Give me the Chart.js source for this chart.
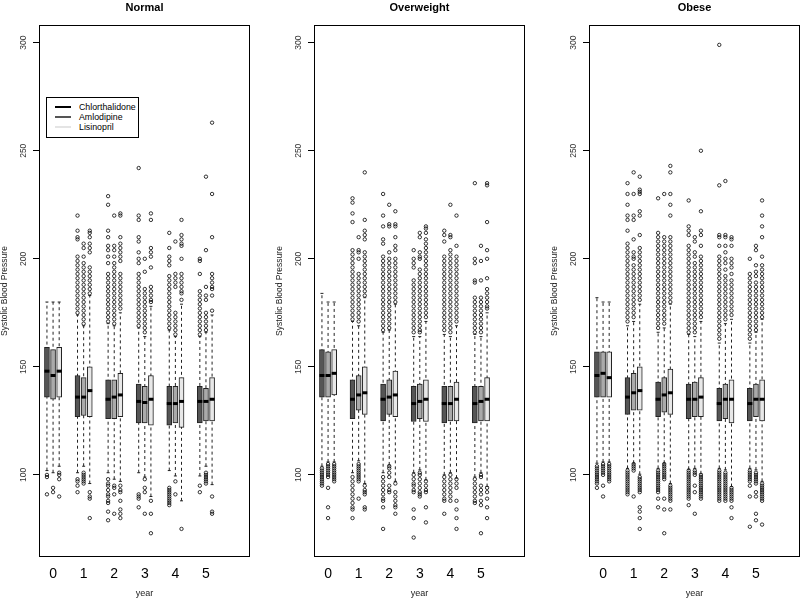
<!DOCTYPE html>
<html>
<head>
<meta charset="utf-8">
<script src="https://cdn.jsdelivr.net/npm/chart.js@4/dist/chart.umd.min.js"></script>
<style>
  body { margin: 0; background: #fff; width: 800px; height: 599px; overflow: hidden; position: relative;
         font-family: "Liberation Sans", Arial, sans-serif; }
  canvas { position: absolute; top: 0; }
  #legend { position: absolute; left: 46px; top: 97px; width: 93px; height: 41px; border: 1px solid #000;
            background: #fff; font-size: 8.8px; color: #000; box-sizing: border-box; padding-top: 4px; }
  #legend .row { position: relative; height: 10px; line-height: 10px; padding-left: 32px; }
  #legend .ln { position: absolute; left: 8px; top: 4px; width: 16px; height: 2px; }
</style>
</head>
<body>
<canvas id="c0" width="252" height="599" style="left:0px"></canvas>
<canvas id="c1" width="252" height="599" style="left:275px"></canvas>
<canvas id="c2" width="252" height="599" style="left:550px"></canvas>
<div id="legend">
  <div class="row"><span class="ln" style="background:#000"></span>Chlorthalidone</div>
  <div class="row"><span class="ln" style="background:#555"></span>Amlodipine</div>
  <div class="row"><span class="ln" style="background:#e4e4e4"></span>Lisinopril</div>
</div>
<script>
// categories
const years = [0, 1, 2, 3, 4, 5]
const drugs = ['Chlorthalidone', 'Amlodipine', 'Lisinopril']
const panels = ['Normal', 'Overweight', 'Obese']
const yTicks = [100, 150, 200, 250, 300]

// box stats, one row per drug (Chlorthalidone, Amlodipine, Lisinopril), one value per year
// Normal
const normalQ1  = [[136, 127, 126, 124, 123, 124], [135, 127.5, 126, 124, 124, 125], [136, 127, 127, 123, 122, 125]]
const normalMed = [[148, 136, 135, 134, 133, 134], [146, 136, 136, 133.5, 133, 134], [148, 139, 137, 135, 134, 135]]
const normalQ3  = [[159, 146, 144, 142, 141, 141], [158, 145, 144, 141, 141, 140], [159, 150, 147, 146, 145, 145]]
const normalLo  = [[102, 101, 101, 101, 102, 99.5], [101, 104, 98, 99, 99.5, 104], [104, 96, 97, 90, 88, 95.5]]
const normalHi  = [[180, 174, 170, 168, 167, 164], [180, 169, 169, 164, 164, 166], [180, 183, 175, 178, 179, 174]]
const normalOut = [
  [[100, 99, 91],
   [220, 213, 210, 209, 201, 199, 197, 195, 193, 191, 189, 187, 185, 183, 181, 179, 177, 175, 98, 97, 95, 92],
   [229, 225, 213, 210, 206, 204, 201, 198, 193, 191, 189, 187, 185, 183, 181, 179, 177, 175, 173, 171, 98, 96, 95, 93, 91, 90, 88, 87, 83, 79],
   [242, 220, 218, 210, 208, 203, 200, 198, 193, 191, 189, 187, 185, 183, 181, 179, 177, 175, 173, 171, 169, 91, 90, 89, 85],
   [212, 205, 201, 199, 197, 192, 190, 188, 186, 184, 182, 180, 178, 176, 174, 172, 170, 168, 94, 93, 92, 91, 90, 89, 88, 87, 86],
   [200, 199, 193, 185, 183, 181, 179, 177, 175, 173, 171, 169, 167, 165, 95, 92]],
  [[94, 92],
   [207, 205, 201, 198, 196, 194, 192, 190, 188, 186, 184, 182, 180, 178, 176, 174, 172, 170, 101, 100, 99, 98, 97, 96],
   [220, 206, 204, 201, 198, 196, 194, 192, 190, 188, 186, 184, 182, 180, 178, 176, 174, 172, 170, 95, 94, 91, 82],
   [200, 194, 186, 184, 182, 180, 178, 176, 174, 172, 170, 168, 166, 98, 94, 92, 82],
   [208, 193, 191, 189, 187, 175, 173, 171, 169, 167, 165, 97, 91],
   [238, 204, 187, 183, 181, 175, 173, 171, 169, 167, 101, 100, 99, 98, 97, 96]],
  [[101, 100, 98, 90],
   [213, 212, 210, 207, 205, 203, 196, 194, 192, 190, 188, 186, 184, 92, 90, 89, 80],
   [221, 220, 210, 207, 205, 203, 201, 199, 193, 191, 189, 187, 185, 183, 181, 179, 177, 95, 93, 92, 88, 84, 82, 80],
   [221, 218, 205, 203, 201, 196, 187, 185, 183, 181, 180, 88, 82, 73],
   [218, 211, 209, 207, 206, 200, 193, 191, 189, 187, 185, 184, 181, 75],
   [263, 230, 210, 193, 191, 189, 187, 186, 183, 176, 90, 83, 82]]
]

// Overweight
const overQ1  = [[136, 126, 125, 124.7, 124, 124], [136, 130, 128, 126, 125, 125], [137, 128, 127, 124.7, 125, 125]]
const overMed = [[146, 135, 135, 133, 133, 133], [146, 137, 136, 134, 133, 134], [147, 138, 137, 135, 135, 135]]
const overQ3  = [[158, 144, 142, 141, 141, 141], [157, 146, 144, 142, 141, 141], [158, 150, 148, 144, 143, 145]]
const overLo  = [[104, 101, 101, 101, 100, 99], [106, 106.5, 104.6, 102.3, 101, 101], [106, 96, 97, 97.7, 98.5, 94.6]]
const overHi  = [[184, 171, 166, 164, 165, 165], [180, 169, 167, 164, 164, 164], [180, 182, 179, 171, 169, 175]]
const overOut = [
  [[103, 102, 101, 100, 99, 98, 97, 96, 95],
   [228, 226, 221, 217, 204, 202, 200, 198, 196, 194, 192, 190, 188, 186, 184, 182, 180, 178, 176, 174, 172, 99, 97, 95, 93, 91, 89, 87, 85, 84, 80],
   [230, 220, 215, 209, 207, 201, 199, 197, 195, 193, 191, 189, 187, 185, 183, 181, 179, 177, 175, 173, 171, 169, 167, 99, 97, 95, 93, 91, 89, 88, 85, 75],
   [204, 200, 198, 196, 190, 188, 186, 184, 182, 180, 178, 176, 174, 172, 170, 168, 166, 100, 98, 96, 95, 93, 92, 84, 80, 71],
   [213, 211, 208, 201, 199, 197, 195, 193, 191, 189, 187, 185, 183, 181, 179, 177, 175, 173, 171, 169, 167, 99, 97, 95, 93, 91, 89, 88, 82],
   [235, 200, 198, 190, 189, 182, 180, 178, 176, 174, 172, 170, 168, 166, 98, 96, 94, 92, 90, 88, 87]],
  [[105, 104, 103, 102, 101, 100, 99, 94, 85, 80],
   [210, 204, 203, 200, 193, 191, 189, 187, 185, 183, 181, 179, 177, 175, 173, 171, 105, 104, 103, 102, 101, 100, 99, 98, 97, 89],
   [225, 216, 215, 203, 200, 198, 196, 194, 192, 190, 188, 186, 184, 182, 180, 178, 176, 174, 172, 170, 168, 104, 103, 101, 99, 95, 93, 92],
   [212, 210, 203, 201, 200, 195, 193, 191, 189, 187, 185, 183, 181, 179, 177, 175, 173, 171, 169, 167, 166, 101, 100, 98, 96, 94, 92, 91, 90],
   [225, 211, 210, 204, 202, 200, 198, 196, 194, 192, 190, 188, 186, 184, 182, 180, 178, 176, 174, 172, 170, 168, 166, 100, 98, 96, 94, 92, 90, 88],
   [206, 199, 190, 182, 180, 178, 176, 174, 172, 170, 168, 166, 100, 99, 95, 93, 91, 88, 86, 73]],
  [[105, 104, 103, 102, 101, 100, 99, 98, 97],
   [240, 218, 213, 211, 209, 203, 201, 199, 197, 195, 193, 191, 189, 187, 185, 183, 95, 93, 92, 91, 85, 84],
   [222, 216, 215, 210, 206, 204, 200, 198, 196, 194, 192, 190, 188, 186, 184, 182, 180, 96, 92, 90, 88, 86, 85, 82],
   [215, 214, 212, 209, 207, 205, 203, 201, 199, 197, 195, 193, 191, 189, 187, 185, 183, 181, 179, 177, 175, 173, 97, 95, 93, 92, 85, 78],
   [220, 206, 201, 199, 197, 195, 193, 191, 189, 187, 185, 183, 181, 179, 177, 175, 173, 171, 98, 96, 94, 88, 84, 80, 75],
   [235, 234, 217, 204, 200, 191, 186, 184, 182, 180, 178, 177, 94, 92, 89, 85, 80]]
]

// Obese
const obeseQ1  = [[136, 128, 127, 126, 125, 125], [136, 130, 129, 127, 126, 127], [136, 130, 128, 127, 124, 125]]
const obeseMed = [[146, 136, 135, 135, 133, 133], [147, 138, 137, 135, 135, 135], [145, 139, 138, 136, 135, 135]]
const obeseQ3  = [[157, 145, 143, 142, 140, 140], [157, 147, 145, 143, 142, 142], [157, 150, 149, 145, 144, 144]]
const obeseLo  = [[105.4, 103, 103, 102.6, 103, 103], [106, 105.4, 105.4, 103, 102.3, 102.3], [106, 100.3, 96, 100.5, 94.6, 97]]
const obeseHi  = [[182, 169, 166, 165, 161, 161], [180, 171, 168, 164, 170, 166], [180, 179, 179, 171, 172, 172]]
const obeseOut = [
  [[104, 103, 102, 101, 100, 99, 98, 97, 96, 94],
   [235, 230, 225, 220, 218, 213, 207, 205, 203, 201, 199, 197, 195, 193, 191, 189, 187, 185, 183, 181, 179, 177, 175, 173, 171, 102, 101, 100, 99, 98, 97, 96, 95, 94, 93, 92, 91],
   [228, 212, 210, 208, 206, 204, 202, 200, 198, 196, 194, 192, 190, 188, 186, 184, 182, 180, 178, 176, 174, 172, 170, 168, 102, 101, 100, 99, 98, 97, 96, 95, 94, 93, 92, 89, 85],
   [227, 215, 213, 211, 206, 204, 202, 200, 198, 196, 194, 192, 190, 188, 186, 184, 182, 180, 178, 176, 174, 172, 170, 168, 166, 102, 101, 100, 99, 98, 97, 96, 95, 94, 93, 92, 91, 90, 89, 86],
   [299, 234, 211, 210, 206, 201, 199, 197, 195, 193, 191, 189, 187, 185, 183, 181, 179, 177, 175, 173, 171, 169, 167, 165, 163, 102, 101, 100, 99, 98, 97, 96, 95, 94, 93, 92, 91, 90, 89, 88],
   [200, 193, 191, 189, 187, 185, 183, 181, 179, 177, 175, 173, 171, 169, 167, 165, 163, 102, 101, 100, 99, 98, 97, 95, 90, 76]],
  [[105, 104, 103, 102, 101, 100, 95, 90],
   [240, 230, 220, 218, 209, 203, 201, 200, 197, 195, 193, 191, 189, 187, 185, 183, 181, 179, 177, 175, 173, 105, 104, 103, 102, 90],
   [230, 210, 208, 206, 204, 202, 200, 198, 196, 194, 192, 190, 188, 186, 184, 182, 180, 178, 176, 174, 172, 170, 105, 104, 103, 102, 101, 100, 99, 98, 89, 84, 73],
   [210, 208, 203, 201, 198, 196, 194, 192, 190, 188, 186, 184, 182, 180, 178, 176, 174, 172, 170, 168, 166, 102, 101, 100, 95, 92, 82],
   [236, 211, 210, 206, 203, 200, 198, 195, 192, 190, 188, 186, 184, 182, 180, 178, 176, 174, 172, 101, 100, 99, 98, 97, 96, 95, 94, 93, 92, 91, 90, 89, 88],
   [206, 204, 197, 194, 192, 189, 187, 185, 183, 181, 179, 177, 175, 173, 171, 169, 167, 101, 100, 99, 98, 97, 96, 92, 90, 82, 79]],
  [[105, 104, 103, 102, 101, 100, 99, 98, 97],
   [238, 232, 231, 230, 222, 220, 211, 205, 203, 201, 199, 197, 195, 193, 191, 189, 187, 185, 183, 181, 99, 98, 97, 96, 95, 94, 93, 92, 85, 83, 80, 75],
   [243, 240, 230, 225, 220, 210, 208, 206, 204, 202, 200, 198, 196, 194, 192, 190, 188, 186, 184, 182, 180, 95, 94, 93, 92, 91, 90, 89, 88, 84],
   [250, 222, 213, 211, 206, 201, 199, 197, 195, 193, 191, 189, 187, 185, 183, 181, 179, 177, 175, 173, 100, 99, 98, 97, 96, 95, 94, 93, 92, 91, 90, 89],
   [210, 209, 206, 200, 198, 196, 193, 190, 188, 186, 184, 182, 180, 178, 176, 174, 94, 93, 92, 91, 90, 89, 88, 85, 80],
   [227, 220, 215, 210, 201, 197, 195, 193, 191, 189, 187, 185, 183, 181, 179, 177, 175, 173, 96, 95, 94, 93, 92, 91, 90, 89, 88, 77]]
]

// look of the boxes
const boxFill = ['#555555', '#aaaaaa', '#e8e8e8']
const boxOffset = [-0.2, 0, 0.2]

Chart.defaults.font.family = "'Liberation Sans', Arial, sans-serif"
Chart.defaults.color = '#000'

// plot frame like R's box()
const framePlugin = {
  id: 'frame',
  afterDatasetsDraw(chart) {
    const a = chart.chartArea
    const ctx = chart.ctx
    ctx.save()
    ctx.strokeStyle = '#000'
    ctx.lineWidth = 1
    ctx.strokeRect(Math.round(a.left) + 0.5, Math.round(a.top) + 0.5,
                   Math.round(a.right - a.left) - 1, Math.round(a.bottom - a.top) - 1)
    ctx.restore()
  }
}

function makePanel(id, title, q1, med, q3, lo, hi, out) {
  let datasets = []
  // boxes
  drugs.forEach((name, d) => {
    datasets.push({
      type: 'bar',
      label: name,
      data: years.map((yr, i) => ({ x: yr + boxOffset[d], y: [q1[d][i], q3[d][i]] })),
      backgroundColor: boxFill[d],
      borderColor: '#222',
      borderWidth: 1,
      borderSkipped: false,
      barThickness: 5,
      grouped: false,
      order: 3
    })
  })
  // whiskers, medians, staples and outliers
  let whisk = [], meds = [], staples = [], outs = []
  years.forEach((yr, i) => {
    drugs.forEach((name, d) => {
      const x = yr + boxOffset[d]
      whisk.push({ x: x, y: lo[d][i] }, { x: x, y: hi[d][i] }, { x: x, y: null })
      meds.push({ x: x, y: med[d][i] })
      staples.push({ x: x, y: lo[d][i] }, { x: x, y: hi[d][i] })
      out[d][i].forEach(v => outs.push({ x: x, y: v }))
    })
  })
  datasets.push({
    type: 'line', label: 'whiskers', data: whisk,
    borderColor: '#222', borderWidth: 1, borderDash: [3, 3], pointRadius: 0, spanGaps: false, order: 5
  })
  datasets.push({
    type: 'scatter', label: 'staples', data: staples,
    pointStyle: 'line', pointRadius: 1.5, borderColor: '#222', borderWidth: 1, order: 2
  })
  datasets.push({
    type: 'scatter', label: 'medians', data: meds,
    pointStyle: 'line', pointRadius: 2.5, borderColor: '#000', borderWidth: 3, order: 1
  })
  datasets.push({
    type: 'scatter', label: 'outliers', data: outs,
    pointStyle: 'circle', pointRadius: 1.7, borderColor: '#000', backgroundColor: 'rgba(0,0,0,0)',
    borderWidth: 0.8, order: 4
  })

  new Chart(document.getElementById(id), {
    type: 'bar',
    data: { datasets: datasets },
    plugins: [framePlugin],
    options: {
      responsive: false,
      animation: false,
      events: [],
      layout: { autoPadding: false, padding: { left: 0, right: 2, top: 0, bottom: 0 } },
      plugins: { legend: { display: false }, tooltip: { enabled: false } },
      scales: {
        x: {
          type: 'linear', position: 'bottom', min: -0.46, max: 6.44, offset: false,
          grid: { display: false }, border: { display: false },
          afterBuildTicks: s => { s.ticks = years.map(v => ({ value: v })) },
          afterFit: s => { s.height = 42 },
          ticks: { font: { size: 14 }, color: '#000', padding: 1, autoSkip: false, maxRotation: 0 },
          title: { display: true, text: 'year', font: { size: 9, lineHeight: 1 }, color: '#222', padding: { top: 0, bottom: 1 } }
        },
        xt: {
          type: 'linear', position: 'top', min: -0.46, max: 6.44, offset: false,
          grid: { display: false }, border: { display: false }, ticks: { display: false },
          afterFit: s => { s.height = 25 },
          title: { display: true, text: title, font: { size: 11, weight: 'bold', lineHeight: 1 }, color: '#000', padding: { top: 2, bottom: 0 } }
        },
        y: {
          type: 'linear', position: 'left', min: 62, max: 308.2,
          afterBuildTicks: s => { s.ticks = yTicks.map(v => ({ value: v })) },
          afterFit: s => { s.width = 39 },
          grid: { drawOnChartArea: false, drawTicks: true, tickLength: 6, color: '#000' },
          border: { display: false },
          ticks: { font: { size: 8.5 }, color: '#333', minRotation: 90, maxRotation: 90, crossAlign: 'center', padding: 2 },
          title: { display: true, text: 'Systolic Blood Pressure', font: { size: 8.5, lineHeight: 1 }, color: '#222', padding: { top: 0, bottom: 0 } }
        }
      }
    }
  })
}

makePanel('c0', panels[0], normalQ1, normalMed, normalQ3, normalLo, normalHi, normalOut)
makePanel('c1', panels[1], overQ1, overMed, overQ3, overLo, overHi, overOut)
makePanel('c2', panels[2], obeseQ1, obeseMed, obeseQ3, obeseLo, obeseHi, obeseOut)
</script>
</body>
</html>
